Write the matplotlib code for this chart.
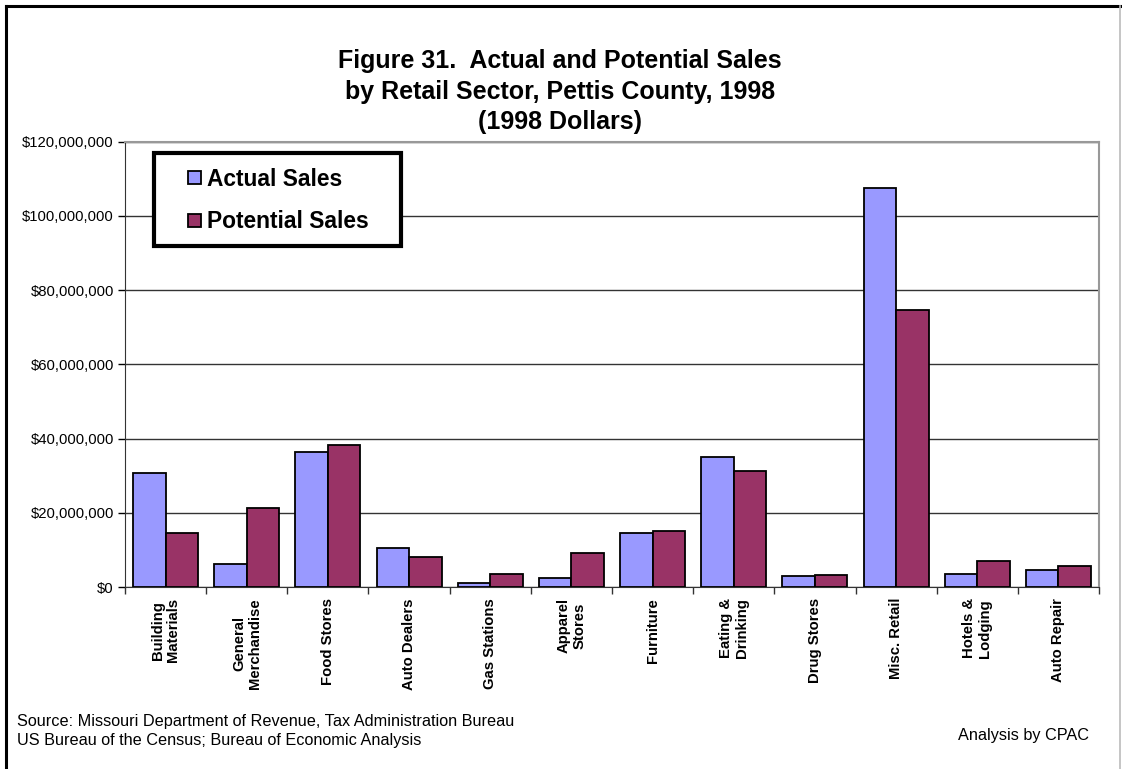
import matplotlib.pyplot as plt
import numpy as np
from matplotlib.lines import Line2D
from matplotlib.patches import Rectangle
from matplotlib.ticker import FuncFormatter

# retail sectors and sales (millions of 1998 dollars)
sectors = ["Building\nMaterials", "General\nMerchandise", "Food Stores", "Auto Dealers",
           "Gas Stations", "Apparel\nStores", "Furniture", "Eating &\nDrinking",
           "Drug Stores", "Misc. Retail", "Hotels &\nLodging", "Auto Repair"]
actual = [30.6, 6.2, 36.3, 10.6, 1.2, 2.3, 14.6, 34.9, 3.0, 107.6, 3.5, 4.6]
potential = [14.5, 21.4, 38.3, 8.2, 3.4, 9.2, 15.0, 31.3, 3.2, 74.7, 7.1, 5.7]
series_names = ["Actual Sales", "Potential Sales"]
series_colors = ["#9999FF", "#993366"]

plt.rcParams['font.family'] = ['Liberation Sans', 'DejaVu Sans']

W, H = 1122, 769
fig = plt.figure(figsize=(W / 100, H / 100), dpi=100)
ax = fig.add_axes([125 / W, 1 - 587 / H, (1099 - 125) / W, (587 - 141.5) / H])

x = np.arange(len(sectors))
bw = 0.40
ax.bar(x - bw / 2, np.array(actual) * 1e6, bw, color=series_colors[0], edgecolor="black",
       linewidth=1.3, zorder=3)
ax.bar(x + bw / 2, np.array(potential) * 1e6, bw, color=series_colors[1], edgecolor="black",
       linewidth=1.3, zorder=3)

ax.set_xlim(-0.5, len(sectors) - 0.5)
ax.set_ylim(0, 120e6)
ax.set_yticks(np.arange(0, 120e6 + 1, 20e6))
ax.yaxis.set_major_formatter(FuncFormatter(lambda v, p: "${:,.0f}".format(v)))
ax.yaxis.grid(True, color="#333333", linewidth=1.0, zorder=0)
ax.tick_params(axis="y", labelsize=10.7, length=5, width=1, pad=3, direction="out")

# category labels at centres, separator ticks between categories
ax.set_xticks(x)
ax.set_xticklabels(sectors, rotation=90, fontsize=10.7, fontweight="bold",
                   va="top", ha="center", multialignment="center", linespacing=1.15)
ax.tick_params(axis="x", which="major", length=0, pad=8)
ax.set_xticks(np.arange(-0.5, len(sectors) + 0.5, 1), minor=True)
ax.tick_params(axis="x", which="minor", length=5, width=1, color="#333333")

for side in ["top", "right"]:
    ax.spines[side].set_color("#999999")
    ax.spines[side].set_linewidth(1.5)
ax.spines["left"].set_color("#333333")
ax.spines["bottom"].set_color("#333333")

# legend box
fig.add_artist(Rectangle((154 / W, 1 - 246 / H), (401 - 154) / W, (246 - 153) / H,
                         transform=fig.transFigure, facecolor="white", edgecolor="black",
                         linewidth=3, zorder=5))
for i, (name, col) in enumerate(zip(series_names, series_colors)):
    yc = 179 + 43 * i
    fig.add_artist(Rectangle((188 / W, 1 - (yc - 2 + 7) / H), 13 / W, 13 / H,
                             transform=fig.transFigure, facecolor=col, edgecolor="black",
                             linewidth=1.3, zorder=6))
    fig.text(207 / W, 1 - yc / H, name, ha="left", va="center", fontsize=16.4,
             fontweight="bold", zorder=6)

title_lines = ["Figure 31.  Actual and Potential Sales",
               "by Retail Sector, Pettis County, 1998",
               "(1998 Dollars)"]
for i, line in enumerate(title_lines):
    fig.text(560 / W, 1 - (61 + 30.5 * i) / H, line, ha="center", va="center",
             fontsize=18, fontweight="bold")

fig.text(17 / W, 1 - 721.5 / H, "Source: Missouri Department of Revenue, Tax Administration Bureau",
         ha="left", va="center", fontsize=11.7)
fig.text(17 / W, 1 - 741 / H, "US Bureau of the Census; Bureau of Economic Analysis",
         ha="left", va="center", fontsize=11.7)
fig.text(1089 / W, 1 - 735.5 / H, "Analysis by CPAC", ha="right", va="center", fontsize=11.7)

# outer frame around the chart
fig.add_artist(Line2D([6 / W, 6 / W], [0, 1 - 6 / H], color="black", linewidth=2.2))
fig.add_artist(Line2D([6 / W, 1120 / W], [1 - 6 / H, 1 - 6 / H], color="black", linewidth=2.2))
fig.add_artist(Line2D([1120 / W, 1120 / W], [0, 1 - 6 / H], color="#bbbbbb", linewidth=1.2))

fig.savefig("out.png", dpi=100)
